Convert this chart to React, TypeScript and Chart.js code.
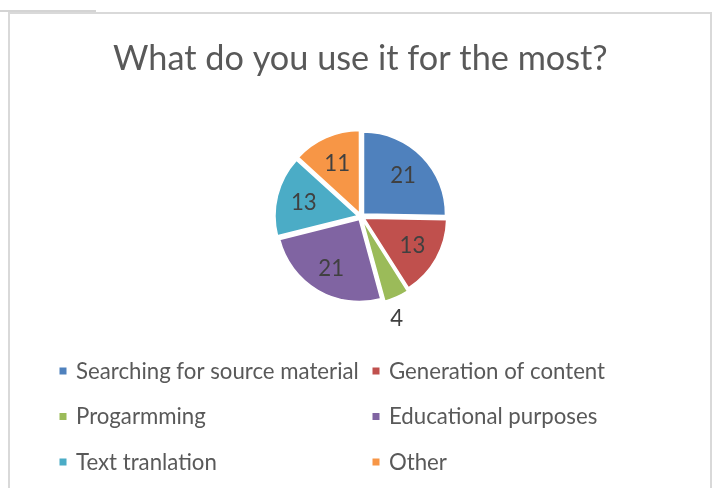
import React, { useEffect, useRef } from "react";
import { Chart, registerables } from "chart.js";

Chart.register(...registerables);

const chartTitle = "What do you use it for the most?";
const categories = [
  "Searching for source material",
  "Generation of content",
  "Progarmming",
  "Educational purposes",
  "Text tranlation",
  "Other",
];
const values = [21, 13, 4, 21, 13, 11];
const colors = ["#4F81BD", "#C0504D", "#9BBB59", "#8064A2", "#4BACC6", "#F79646"];

const FONT = "Lato, 'Open Sans', sans-serif";

function fitSize(ctx: CanvasRenderingContext2D, text: string, target: number) {
  ctx.font = `100px ${FONT}`;
  const w = ctx.measureText(text).width;
  return (100 * target) / w;
}

const decorPlugin = {
  id: "decor",
  beforeDraw(chart: any) {
    const ctx: CanvasRenderingContext2D = chart.ctx;
    ctx.save();
    ctx.fillStyle = "#ffffff";
    ctx.fillRect(0, 0, chart.width, chart.height);
    // frame
    ctx.strokeStyle = "#d9d9d9";
    ctx.lineWidth = 2;
    ctx.beginPath();
    ctx.moveTo(9, chart.height + 5);
    ctx.lineTo(9, 13);
    ctx.lineTo(711, 13);
    ctx.lineTo(711, chart.height + 5);
    ctx.stroke();
    ctx.strokeStyle = "#d4d4d4";
    ctx.beginPath();
    ctx.moveTo(0, 11);
    ctx.lineTo(96, 11);
    ctx.stroke();
    ctx.restore();
  },
  afterDraw(chart: any) {
    const ctx: CanvasRenderingContext2D = chart.ctx;
    ctx.save();
    // title
    const ts = fitSize(ctx, chartTitle, 495);
    ctx.font = `${ts}px ${FONT}`;
    ctx.fillStyle = "#595959";
    ctx.textAlign = "left";
    ctx.textBaseline = "alphabetic";
    ctx.fillText(chartTitle, 113, 70);

    // legend
    const ls = fitSize(ctx, categories[0], 283);
    ctx.font = `${ls}px ${FONT}`;
    const markerX = [63, 376];
    const textX = [76, 389];
    const baseY = [378.5, 424, 469.5];
    const labels: string[] = chart.data.labels;
    const bg: string[] = chart.data.datasets[0].backgroundColor;
    labels.forEach((lab, i) => {
      const col = i % 2;
      const row = Math.floor(i / 2);
      ctx.fillStyle = bg[i];
      ctx.fillRect(markerX[col] - 3.5, baseY[row] - 11, 7, 7);
      ctx.fillStyle = "#595959";
      ctx.fillText(lab, textX[col], baseY[row]);
    });

    // data labels
    const meta = chart.getDatasetMeta(0);
    const data: number[] = chart.data.datasets[0].data;
    ctx.font = `${ls}px ${FONT}`;
    ctx.fillStyle = "#404040";
    ctx.textAlign = "center";
    ctx.textBaseline = "middle";
    meta.data.forEach((arc: any, i: number) => {
      const p = arc.getProps(["x", "y", "startAngle", "endAngle", "outerRadius"], true);
      const mid = (p.startAngle + p.endAngle) / 2;
      const span = p.endAngle - p.startAngle;
      const dx = Math.cos(mid);
      const dy = Math.sin(mid);
      let lx: number, ly: number;
      if (span < 0.4) {
        const ex = p.x + dx * (p.outerRadius + 4);
        const ey = p.y + dy * (p.outerRadius + 4);
        if (Math.abs(dy) > Math.abs(dx)) {
          lx = ex + 1;
          ly = ey + Math.sign(dy) * 23;
        } else {
          lx = ex + Math.sign(dx) * 14;
          ly = ey;
        }
      } else {
        const r = p.outerRadius * 0.67 + 4;
        lx = p.x + dx * r;
        ly = p.y + dy * r;
      }
      ctx.fillText(String(data[i]), lx, ly + 1);
    });
    ctx.restore();
  },
};

export default function App() {
  const ref = useRef<HTMLCanvasElement | null>(null);
  useEffect(() => {
    if (!ref.current) return;
    const chart = new Chart(ref.current, {
      type: "pie",
      data: {
        labels: categories,
        datasets: [
          {
            data: values,
            backgroundColor: colors,
            borderColor: "#ffffff",
            borderWidth: 1.5,
            offset: 14,
          },
        ],
      },
      options: {
        responsive: false,
        animation: false,
        radius: 82,
        layout: { padding: { left: 150, right: 146, top: 120, bottom: 175 } },
        plugins: {
          legend: { display: false },
          title: { display: false },
          tooltip: { enabled: false },
        },
      } as any,
      plugins: [decorPlugin],
    });
    return () => chart.destroy();
  }, []);
  return (
    <div style={{ position: "fixed", left: 0, top: 0, width: 718, height: 488, background: "#fff" }}>
      <canvas ref={ref} width={718} height={488} style={{ width: 718, height: 488, display: "block" }} />
    </div>
  );
}
